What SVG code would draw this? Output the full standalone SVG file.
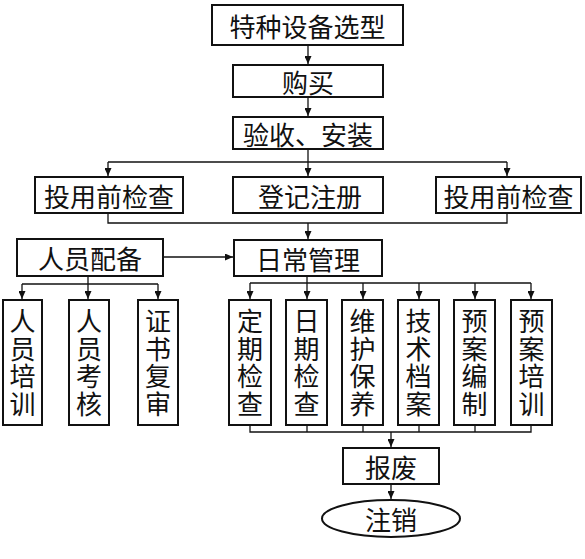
<svg xmlns="http://www.w3.org/2000/svg" width="585" height="559" viewBox="0 0 585 559">
<style>
.box{fill:#fff;stroke:#111;stroke-width:2}
.t{font-family:"Noto Sans CJK SC","Noto Sans",sans-serif;font-size:26px;fill:#111;text-anchor:middle;dominant-baseline:central}
.v{font-family:"Noto Sans CJK SC","Noto Sans",sans-serif;font-size:26px;fill:#111;text-anchor:middle;writing-mode:vertical-rl;letter-spacing:1.7px}
.c{fill:none;stroke:#111;stroke-width:1.3}
.a{fill:none;stroke:#111;stroke-width:1.3;marker-end:url(#arr)}
</style>
<defs>
<marker id="arr" markerUnits="userSpaceOnUse" markerWidth="8" markerHeight="7" refX="8" refY="3.5" orient="auto">
<path d="M0,0 L8,3.5 L0,7 z" fill="#111"/>
</marker>
</defs>
<rect width="585" height="559" fill="#fff"/>
<g id="connectors">
<line class="a" x1="308" y1="46" x2="308" y2="64"/>
<line class="a" x1="308" y1="98" x2="308" y2="116"/>
<line class="c" x1="308" y1="150" x2="308" y2="162"/>
<line class="c" x1="108" y1="162" x2="507" y2="162"/>
<line class="a" x1="108" y1="162" x2="108" y2="176"/>
<line class="a" x1="308" y1="162" x2="308" y2="176"/>
<line class="a" x1="507" y1="162" x2="507" y2="176"/>
<polyline class="c" points="108,214 108,223 507,223 507,214"/>
<line class="a" x1="308" y1="223" x2="308" y2="239"/>
<line class="a" x1="164" y1="257" x2="233" y2="257"/>
<line class="a" x1="88" y1="277" x2="88" y2="299"/>
<line class="c" x1="22" y1="284" x2="158" y2="284"/>
<line class="a" x1="22" y1="284" x2="22" y2="299"/>
<line class="a" x1="158" y1="284" x2="158" y2="299"/>
<line class="a" x1="307" y1="277" x2="307" y2="299"/>
<line class="c" x1="250" y1="283" x2="531" y2="283"/>
<line class="a" x1="250" y1="283" x2="250" y2="299"/>
<line class="a" x1="363" y1="283" x2="363" y2="299"/>
<line class="a" x1="419" y1="283" x2="419" y2="299"/>
<line class="a" x1="475" y1="283" x2="475" y2="299"/>
<line class="a" x1="531" y1="283" x2="531" y2="299"/>
<polyline class="c" points="250,426 250,432 531,432 531,426"/>
<line class="c" x1="307" y1="426" x2="307" y2="432"/>
<line class="c" x1="363" y1="426" x2="363" y2="432"/>
<line class="c" x1="419" y1="426" x2="419" y2="432"/>
<line class="c" x1="475" y1="426" x2="475" y2="432"/>
<line class="a" x1="391" y1="432" x2="391" y2="447"/>
<line class="a" x1="391" y1="485" x2="391" y2="499"/>
</g>
<g id="n1"><rect class="box" x="212" y="5" width="191" height="40"/><text class="t" x="307.5" y="25">特种设备选型</text></g>
<g id="n2"><rect class="box" x="233" y="65" width="150" height="32"/><text class="t" x="308" y="81">购买</text></g>
<g id="n3"><rect class="box" x="233" y="117" width="150" height="32"/><text class="t" x="308" y="133">验收、安装</text></g>
<g id="n4"><rect class="box" x="35" y="177" width="148" height="36"/><text class="t" x="109" y="195">投用前检查</text></g>
<g id="n5"><rect class="box" x="233" y="177" width="150" height="36"/><text class="t" x="310" y="195">登记注册</text></g>
<g id="n6"><rect class="box" x="436" y="177" width="145" height="36"/><text class="t" x="508.5" y="195">投用前检查</text></g>
<g id="n7"><rect class="box" x="17" y="239" width="146" height="37"/><text class="t" x="90" y="257.5">人员配备</text></g>
<g id="n8"><rect class="box" x="234" y="240" width="148" height="36"/><text class="t" x="308" y="258">日常管理</text></g>
<g id="n9"><rect class="box" x="3" y="300" width="39" height="125"/><text class="v" x="22.5" y="363.5">人员培训</text></g>
<g id="n10"><rect class="box" x="69" y="300" width="40" height="125"/><text class="v" x="89" y="363.5">人员考核</text></g>
<g id="n11"><rect class="box" x="138" y="300" width="40" height="125"/><text class="v" x="158" y="363.5">证书复审</text></g>
<g id="n12"><rect class="box" x="229" y="300" width="42" height="125"/><text class="v" x="250" y="363.5">定期检查</text></g>
<g id="n13"><rect class="box" x="286" y="300" width="41" height="125"/><text class="v" x="306.5" y="363.5">日期检查</text></g>
<g id="n14"><rect class="box" x="342" y="300" width="41" height="125"/><text class="v" x="362.5" y="363.5">维护保养</text></g>
<g id="n15"><rect class="box" x="398" y="300" width="41" height="125"/><text class="v" x="418.5" y="363.5">技术档案</text></g>
<g id="n16"><rect class="box" x="454" y="300" width="41" height="125"/><text class="v" x="474.5" y="363.5">预案编制</text></g>
<g id="n17"><rect class="box" x="511" y="300" width="41" height="125"/><text class="v" x="531.5" y="363.5">预案培训</text></g>
<g id="n18"><rect class="box" x="343" y="448" width="96" height="36"/><text class="t" x="391" y="466">报废</text></g>
<g id="n19"><ellipse class="box" cx="391" cy="518.5" rx="69" ry="18.5"/><text class="t" x="391" y="518.5">注销</text></g>
</svg>
